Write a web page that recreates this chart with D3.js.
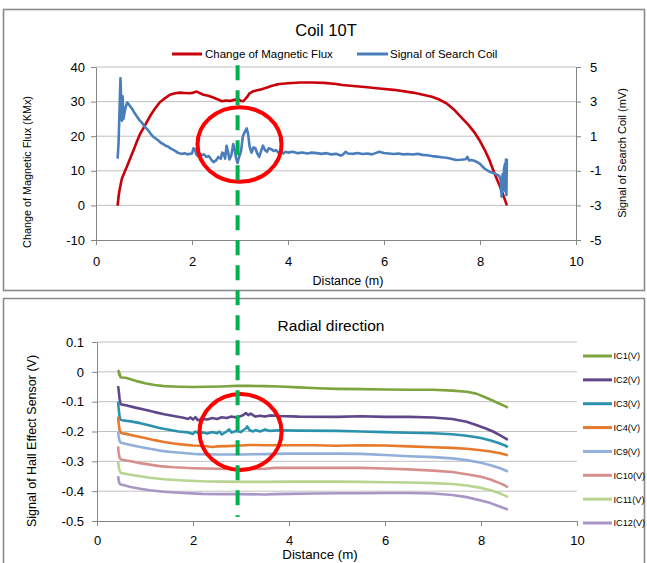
<!DOCTYPE html>
<html><head><meta charset="utf-8">
<script src="https://cdn.jsdelivr.net/npm/d3@7"></script>
<style>
html,body{margin:0;padding:0;background:#fff;}
text{font-family:"Liberation Sans",Arial,sans-serif;fill:#000;}
</style></head>
<body><svg id="c" width="647" height="563"></svg>
<script>
// ---------- DATA ----------
const xTicks = [0,2,4,6,8,10];
const fluxTicks = [-10,0,10,20,30,40];
const coilTicks = [-5,-3,-1,1,3,5];
const hallTicks = [0.1,0,-0.1,-0.2,-0.3,-0.4,-0.5];
const hallTickLabels = ["0.1","0","-0.1","-0.2","-0.3","-0.4","-0.5"];

// Change of Magnetic Flux (KMx) vs distance (m)
const fluxData = [[0.45,-0.1],[0.47,2.5],[0.49,4.4],[0.52,6.5],[0.54,7.8],[0.6,9.8],[0.64,11.1],[0.7,13.2],[0.78,15.9],[0.85,18.4],[0.92,20.7],[1.0,22.6],[1.13,25.9],[1.23,28.0],[1.33,29.8],[1.44,31.0],[1.54,32.0],[1.65,32.4],[1.75,32.6],[1.85,32.5],[1.96,32.4],[2.03,32.6],[2.1,32.9],[2.17,32.4],[2.24,32.0],[2.34,31.7],[2.44,31.2],[2.53,30.7],[2.62,30.1],[2.7,30.3],[2.79,30.2],[2.88,30.5],[2.96,30.7],[3.02,30.2],[3.07,30.1],[3.14,31.2],[3.2,32.4],[3.28,33.0],[3.36,33.3],[3.45,33.6],[3.55,34.0],[3.65,34.5],[3.75,34.9],[3.83,35.1],[4.0,35.3],[4.25,35.5],[4.5,35.5],[4.75,35.4],[5.0,35.1],[5.13,34.8],[5.3,34.6],[5.6,34.2],[5.9,33.8],[6.2,33.4],[6.6,32.6],[7.0,31.4],[7.15,30.6],[7.3,29.5],[7.45,27.8],[7.6,25.6],[7.75,23.4],[7.9,20.8],[8.0,18.6],[8.1,16.0],[8.2,13.0],[8.3,9.3],[8.4,6.0],[8.47,3.5],[8.52,1.6],[8.56,0.0]];

// Signal of Search Coil (mV) vs distance (m)
const coilData = [[0.45,-0.3],[0.47,0.6],[0.49,2.5],[0.51,4.35],[0.525,3.0],[0.54,1.9],[0.555,3.3],[0.57,2.0],[0.59,2.3],[0.62,2.7],[0.65,2.95],[0.68,2.85],[0.72,2.7],[0.76,2.55],[0.8,2.35],[0.85,2.15],[0.9,1.95],[0.95,1.8],[1.0,1.6],[1.05,1.45],[1.1,1.3],[1.15,1.1],[1.2,0.95],[1.25,0.85],[1.3,0.75],[1.35,0.62],[1.4,0.55],[1.45,0.45],[1.5,0.4],[1.55,0.3],[1.6,0.22],[1.65,0.15],[1.7,0.05],[1.75,0.0],[1.8,-0.02],[1.85,0.02],[1.9,-0.05],[1.95,-0.02],[2.0,0.0],[2.03,0.3],[2.06,0.25],[2.09,-0.05],[2.12,-0.15],[2.16,0.0],[2.2,-0.1],[2.25,-0.05],[2.3,-0.2],[2.35,-0.15],[2.4,-0.35],[2.45,-0.5],[2.5,-0.4],[2.55,-0.2],[2.6,-0.3],[2.63,0.05],[2.66,0.0],[2.69,-0.3],[2.72,0.45],[2.75,0.1],[2.78,-0.35],[2.82,-0.1],[2.86,0.55],[2.89,0.2],[2.92,-0.3],[2.95,-0.55],[2.98,-0.2],[3.02,0.1],[3.06,1.0],[3.1,1.25],[3.14,1.45],[3.17,1.1],[3.2,0.4],[3.24,0.05],[3.28,0.35],[3.32,0.3],[3.36,0.0],[3.4,-0.2],[3.44,0.15],[3.48,0.45],[3.52,0.2],[3.56,0.1],[3.6,0.3],[3.65,0.25],[3.7,0.15],[3.75,0.2],[3.8,0.05],[3.85,0.1],[3.9,0.0],[3.95,0.1],[4.0,0.05],[4.1,0.1],[4.2,0.02],[4.3,0.06],[4.4,0.0],[4.5,0.05],[4.6,0.02],[4.7,-0.02],[4.8,0.02],[4.9,-0.05],[5.0,-0.02],[5.1,-0.12],[5.15,-0.05],[5.2,0.1],[5.25,0.0],[5.35,-0.02],[5.45,0.03],[5.55,-0.03],[5.65,0.0],[5.75,-0.05],[5.85,0.05],[5.9,0.1],[6.0,0.03],[6.1,0.0],[6.2,-0.03],[6.3,0.0],[6.4,-0.05],[6.5,-0.03],[6.6,-0.06],[6.7,-0.02],[6.8,-0.08],[6.9,-0.1],[7.0,-0.15],[7.1,-0.18],[7.2,-0.22],[7.3,-0.25],[7.4,-0.3],[7.5,-0.38],[7.6,-0.36],[7.7,-0.33],[7.74,-0.2],[7.77,-0.4],[7.82,-0.38],[7.88,-0.42],[7.94,-0.5],[8.0,-0.6],[8.05,-0.75],[8.1,-0.88],[8.15,-0.97],[8.2,-1.05],[8.25,-1.1],[8.3,-1.15],[8.35,-1.22],[8.4,-1.3],[8.43,-1.5],[8.45,-2.5],[8.47,-1.2],[8.49,-2.1],[8.5,-0.9],[8.52,-0.6],[8.53,-2.2],[8.54,-0.35],[8.55,-2.4],[8.56,-0.3]];

// Hall effect sensors (V) vs distance (m)
const ic1 = [[0.44,0.0],[0.45,0.003],[0.46,-0.01],[0.47,-0.005],[0.49,-0.018],[0.55,-0.02],[0.6,-0.02],[0.7,-0.025],[0.85,-0.032],[1.0,-0.038],[1.2,-0.044],[1.4,-0.048],[1.7,-0.05],[2.0,-0.051],[2.3,-0.05],[2.6,-0.049],[2.9,-0.047],[3.2,-0.047],[3.5,-0.048],[3.8,-0.049],[4.2,-0.052],[4.6,-0.055],[5.0,-0.057],[5.5,-0.058],[6.0,-0.059],[6.5,-0.06],[7.0,-0.06],[7.4,-0.063],[7.7,-0.067],[7.9,-0.073],[8.1,-0.086],[8.25,-0.097],[8.4,-0.108],[8.5,-0.115],[8.56,-0.12]];
const ic2 = [[0.44,-0.048],[0.45,-0.06],[0.47,-0.09],[0.49,-0.108],[0.52,-0.11],[0.6,-0.112],[0.8,-0.12],[1.0,-0.127],[1.2,-0.135],[1.4,-0.142],[1.6,-0.148],[1.8,-0.154],[1.9,-0.158],[1.95,-0.153],[2.0,-0.16],[2.05,-0.152],[2.1,-0.162],[2.2,-0.158],[2.3,-0.16],[2.4,-0.155],[2.5,-0.158],[2.6,-0.152],[2.7,-0.155],[2.8,-0.15],[2.9,-0.153],[3.0,-0.148],[3.05,-0.145],[3.1,-0.138],[3.15,-0.145],[3.2,-0.14],[3.3,-0.15],[3.4,-0.147],[3.5,-0.15],[3.6,-0.146],[3.8,-0.148],[4.2,-0.15],[5.0,-0.151],[5.5,-0.149],[6.0,-0.151],[6.5,-0.151],[7.0,-0.153],[7.4,-0.158],[7.7,-0.167],[7.9,-0.178],[8.1,-0.19],[8.25,-0.2],[8.4,-0.213],[8.5,-0.222],[8.56,-0.228]];
const ic3 = [[0.44,-0.1],[0.45,-0.12],[0.47,-0.15],[0.49,-0.16],[0.52,-0.162],[0.7,-0.166],[0.9,-0.172],[1.1,-0.18],[1.3,-0.188],[1.5,-0.194],[1.7,-0.2],[1.9,-0.203],[2.0,-0.208],[2.05,-0.2],[2.1,-0.205],[2.2,-0.203],[2.3,-0.207],[2.4,-0.202],[2.5,-0.206],[2.55,-0.2],[2.6,-0.21],[2.7,-0.2],[2.75,-0.193],[2.8,-0.203],[2.9,-0.198],[3.0,-0.202],[3.05,-0.195],[3.1,-0.19],[3.13,-0.183],[3.18,-0.196],[3.25,-0.2],[3.3,-0.195],[3.4,-0.2],[3.5,-0.193],[3.6,-0.198],[3.8,-0.196],[4.2,-0.197],[5.0,-0.198],[5.5,-0.2],[6.0,-0.202],[6.5,-0.204],[7.0,-0.206],[7.4,-0.209],[7.7,-0.214],[8.0,-0.222],[8.2,-0.23],[8.35,-0.238],[8.5,-0.247],[8.56,-0.252]];
const ic4 = [[0.44,-0.15],[0.45,-0.17],[0.47,-0.195],[0.5,-0.205],[0.6,-0.208],[0.8,-0.215],[1.0,-0.222],[1.2,-0.229],[1.4,-0.235],[1.6,-0.24],[1.8,-0.244],[2.0,-0.247],[2.2,-0.248],[2.4,-0.252],[2.5,-0.25],[2.7,-0.249],[3.0,-0.247],[3.2,-0.245],[3.5,-0.246],[4.0,-0.246],[4.5,-0.246],[5.0,-0.248],[5.5,-0.246],[6.0,-0.247],[6.5,-0.25],[7.0,-0.253],[7.4,-0.255],[7.7,-0.258],[8.0,-0.263],[8.2,-0.267],[8.4,-0.273],[8.5,-0.277],[8.56,-0.28]];
const ic9 = [[0.44,-0.2],[0.45,-0.215],[0.47,-0.232],[0.5,-0.238],[0.7,-0.245],[0.9,-0.252],[1.1,-0.258],[1.3,-0.264],[1.5,-0.268],[1.8,-0.272],[2.1,-0.276],[2.5,-0.277],[3.0,-0.277],[3.5,-0.276],[4.0,-0.274],[4.5,-0.274],[5.0,-0.274],[5.5,-0.275],[6.0,-0.279],[6.5,-0.283],[7.0,-0.286],[7.4,-0.29],[7.7,-0.296],[8.0,-0.305],[8.2,-0.313],[8.4,-0.323],[8.5,-0.33],[8.56,-0.334]];
const ic10 = [[0.44,-0.25],[0.45,-0.27],[0.47,-0.288],[0.5,-0.294],[0.7,-0.3],[0.9,-0.306],[1.1,-0.311],[1.3,-0.316],[1.6,-0.32],[2.0,-0.323],[2.5,-0.325],[3.0,-0.326],[3.5,-0.325],[3.7,-0.322],[4.0,-0.322],[4.5,-0.322],[5.0,-0.322],[5.5,-0.322],[6.0,-0.324],[6.5,-0.327],[7.0,-0.331],[7.4,-0.336],[7.7,-0.343],[8.0,-0.352],[8.2,-0.361],[8.4,-0.374],[8.5,-0.381],[8.56,-0.387]];
const ic11 = [[0.44,-0.3],[0.45,-0.315],[0.47,-0.332],[0.5,-0.339],[0.7,-0.345],[0.9,-0.35],[1.1,-0.355],[1.4,-0.36],[1.8,-0.364],[2.2,-0.367],[2.6,-0.368],[3.0,-0.369],[3.5,-0.369],[4.0,-0.368],[4.5,-0.368],[5.0,-0.368],[5.5,-0.369],[6.0,-0.37],[6.5,-0.371],[7.0,-0.373],[7.4,-0.376],[7.7,-0.381],[8.0,-0.389],[8.2,-0.397],[8.4,-0.408],[8.5,-0.415],[8.56,-0.42]];
const ic12 = [[0.44,-0.35],[0.45,-0.362],[0.47,-0.375],[0.5,-0.378],[0.7,-0.386],[0.9,-0.392],[1.1,-0.397],[1.4,-0.402],[1.8,-0.406],[2.2,-0.409],[2.6,-0.41],[3.0,-0.41],[3.5,-0.411],[3.7,-0.41],[4.0,-0.409],[4.5,-0.408],[5.0,-0.407],[5.5,-0.407],[6.0,-0.406],[6.5,-0.406],[7.0,-0.408],[7.4,-0.413],[7.7,-0.42],[8.0,-0.431],[8.2,-0.44],[8.4,-0.452],[8.5,-0.458],[8.56,-0.462]];
const hallNames = ["IC1(V)","IC2(V)","IC3(V)","IC4(V)","IC9(V)","IC10(V)","IC11(V)","IC12(V)"];
const hallSeries = [ic1,ic2,ic3,ic4,ic9,ic10,ic11,ic12];
const hallColors = ["#7ea43f","#60468a","#2b92ad","#e8792b","#91afd9","#d68f8c","#b8d491","#a995c6"];

// annotations (data units)
const markerX = 2.95;
const topCircle = {x:2.99, y:17.6, rx:0.875, ry:10.8};
const botCircle = {x:2.99, y:-0.2017, rx:0.855, ry:0.127};

// ---------- DRAW ----------
const svg = d3.select("#c");
svg.append("rect").attr("width",647).attr("height",563).attr("fill","#fff");

// frames
svg.append("rect").attr("x",3.5).attr("y",9.5).attr("width",641).attr("height",281)
  .attr("fill","none").attr("stroke","#8a8a8a").attr("stroke-width",1.6);
svg.append("path").attr("d","M3.5,566 V298.5 H644.5 V566")
  .attr("fill","none").attr("stroke","#8a8a8a").attr("stroke-width",1.6);

const gridC = "#c0c0c0", axisC = "#868686";
const hy = d => String(d); // plain hyphen-minus like the reference

// ===== top chart =====
const xT = d3.scaleLinear().domain([0,10]).range([96,576]);
const yL = d3.scaleLinear().domain([-10,40]).range([240,67]);
const yR = d3.scaleLinear().domain([-5,5]).range([240,67]);

const gT = svg.append("g");
gT.selectAll("line.grid").data(fluxTicks.filter(d=>d>-10)).join("line")
  .attr("x1",xT(0)).attr("x2",xT(10)).attr("y1",d=>yL(d)).attr("y2",d=>yL(d))
  .attr("stroke",gridC).attr("stroke-width",1);

function styleAxis(g, size){
  g.select(".domain").attr("stroke",axisC).attr("stroke-width",1);
  g.selectAll(".tick line").attr("stroke",axisC);
  g.selectAll(".tick text").attr("font-size",size).attr("font-family","Liberation Sans, Arial, sans-serif").attr("fill","#000");
}
const axL = gT.append("g").attr("transform",`translate(${xT(0)},0)`)
  .call(d3.axisLeft(yL).tickValues(fluxTicks).tickFormat(hy).tickSize(5).tickSizeOuter(0).tickPadding(6));
styleAxis(axL,13);
const axR = gT.append("g").attr("transform",`translate(${xT(10)},0)`)
  .call(d3.axisRight(yR).tickValues(coilTicks).tickFormat(hy).tickSize(5).tickSizeOuter(0).tickPadding(9));
styleAxis(axR,13);
const axB = gT.append("g").attr("transform",`translate(0,${yL(-10)})`)
  .call(d3.axisBottom(xT).tickValues(xTicks).tickFormat(hy).tickSize(5).tickSizeOuter(0).tickPadding(12));
styleAxis(axB,13);

const lineFlux = d3.line().x(d=>xT(d[0])).y(d=>yL(d[1]));
const lineCoil = d3.line().x(d=>xT(d[0])).y(d=>yR(d[1]));
gT.append("path").attr("d",lineFlux(fluxData)).attr("fill","none").attr("stroke","#c8000a").attr("stroke-width",2.6).attr("stroke-linejoin","round");
gT.append("path").attr("d",lineCoil(coilData)).attr("fill","none").attr("stroke","#4a7ebb").attr("stroke-width",2.6).attr("stroke-linejoin","round");

svg.append("text").attr("x",326).attr("y",36).attr("text-anchor","middle").attr("font-size",16.5).text("Coil 10T");
// legend top
svg.append("line").attr("x1",172).attr("x2",202).attr("y1",54).attr("y2",54).attr("stroke","#c8000a").attr("stroke-width",3);
svg.append("text").attr("x",205).attr("y",58).attr("font-size",11.5).text("Change of Magnetic Flux");
svg.append("line").attr("x1",357).attr("x2",388).attr("y1",54).attr("y2",54).attr("stroke","#4a7ebb").attr("stroke-width",3);
svg.append("text").attr("x",390).attr("y",58).attr("font-size",11.5).text("Signal of Search Coil");

svg.append("text").attr("x",348).attr("y",285).attr("text-anchor","middle").attr("font-size",12.5).text("Distance  (m)");
svg.append("text").attr("transform","translate(31,172) rotate(-90)").attr("text-anchor","middle").attr("font-size",10.8).text("Change of Magnetic Flux  (KMx)");
svg.append("text").attr("transform","translate(626,153) rotate(-90)").attr("text-anchor","middle").attr("font-size",11).text("Signal of Search Coil  (mV)");

// ===== bottom chart =====
const xB = d3.scaleLinear().domain([0,10]).range([97,577]);
const yB = d3.scaleLinear().domain([-0.5,0.1]).range([521,342]);
const gB = svg.append("g");
gB.selectAll("line.grid").data(hallTicks.filter(d=>d>-0.45)).join("line")
  .attr("x1",xB(0)).attr("x2",xB(10)).attr("y1",d=>yB(d)).attr("y2",d=>yB(d))
  .attr("stroke",gridC).attr("stroke-width",1);
const axBL = gB.append("g").attr("transform",`translate(${xB(0)},0)`)
  .call(d3.axisLeft(yB).tickValues(hallTicks).tickFormat((d,i)=>hallTickLabels[i]).tickSize(5).tickSizeOuter(0).tickPadding(8));
styleAxis(axBL,13);
const axBB = gB.append("g").attr("transform",`translate(0,${yB(-0.5)})`)
  .call(d3.axisBottom(xB).tickValues(xTicks).tickFormat(hy).tickSize(5).tickSizeOuter(0).tickPadding(10));
styleAxis(axBB,13);

const lineHall = d3.line().x(d=>xB(d[0])).y(d=>yB(d[1]));
hallSeries.forEach((s,i)=>{
  gB.append("path").attr("d",lineHall(s)).attr("fill","none").attr("stroke",hallColors[i]).attr("stroke-width",2.6).attr("stroke-linejoin","round");
});
// legend bottom
const legY = d3.scalePoint().domain(hallNames).range([356,523]);
hallNames.forEach((n,i)=>{
  svg.append("line").attr("x1",583).attr("x2",612).attr("y1",legY(n)).attr("y2",legY(n)).attr("stroke",hallColors[i]).attr("stroke-width",3);
  svg.append("text").attr("x",613.5).attr("y",legY(n)+3.4).attr("font-size",9.2).text(n);
});

svg.append("text").attr("x",331).attr("y",331).attr("text-anchor","middle").attr("font-size",15.5).text("Radial direction");
svg.append("text").attr("x",320).attr("y",559).attr("text-anchor","middle").attr("font-size",13.3).text("Distance  (m)");
svg.append("text").attr("transform","translate(36,441) rotate(-90)").attr("text-anchor","middle").attr("font-size",12.5).text("Signal of Hall Effect  Sensor (V)");

// ===== annotations =====
svg.append("ellipse").attr("cx",xT(topCircle.x)).attr("cy",yL(topCircle.y))
  .attr("rx",xT(topCircle.rx)-xT(0)).attr("ry",yL(0)-yL(topCircle.ry))
  .attr("fill","none").attr("stroke","#ff0000").attr("stroke-width",4);
svg.append("ellipse").attr("cx",xB(botCircle.x)).attr("cy",yB(botCircle.y))
  .attr("rx",xB(botCircle.rx)-xB(0)).attr("ry",yB(0)-yB(botCircle.ry))
  .attr("fill","none").attr("stroke","#ff0000").attr("stroke-width",4);
svg.append("line").attr("x1",xT(markerX)).attr("x2",xT(markerX))
  .attr("y1",yL(40.5)).attr("y2",yB(-0.487))
  .attr("stroke","#00b050").attr("stroke-width",4).attr("stroke-dasharray","15,10");
</script></body></html>
